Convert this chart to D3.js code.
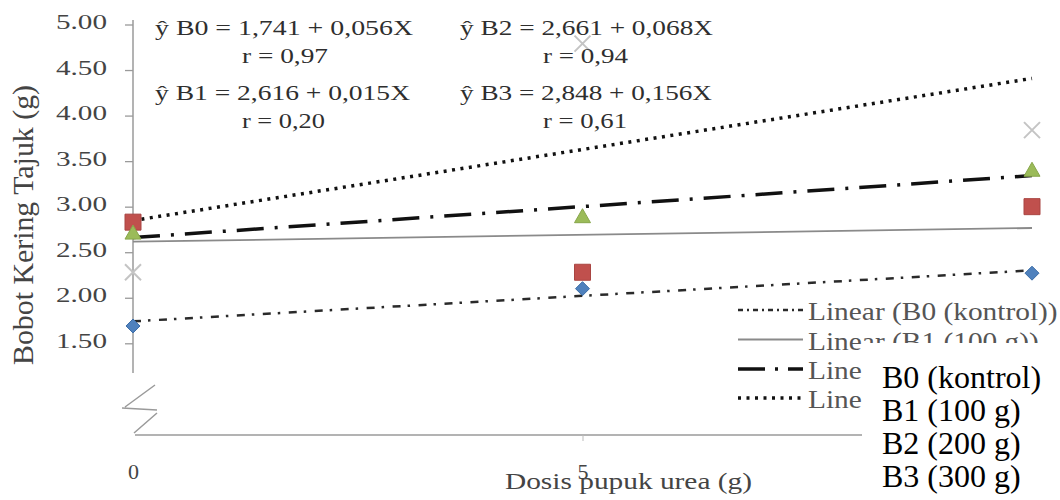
<!DOCTYPE html>
<html><head><meta charset="utf-8">
<script src="https://cdn.jsdelivr.net/npm/d3@7"></script>
<style>
body{margin:0;background:#fff}
svg{display:block}
svg text{font-family:"Liberation Serif","Times New Roman",serif}
</style>
</head><body>
<svg id="c" width="1060" height="500"></svg>
<script>
// ---- data ----
const doses = [0, 5, 10];
const seriesNames = ["B0 (kontrol)", "B1 (100 g)", "B2 (200 g)", "B3 (300 g)"];
const b0Values = [1.69, 2.10, 2.27];
const b1Values = [2.83, 2.28, 3.00];
const b2Values = [2.71, 2.89, 3.40];
const b3Values = [2.28, 4.79, 3.84];
const intercepts = [1.741, 2.616, 2.661, 2.848];
const slopes = [0.056, 0.015, 0.068, 0.156];
const rValues = [0.97, 0.20, 0.94, 0.61];
const yTicks = [1.5, 2, 2.5, 3, 3.5, 4, 4.5, 5];
const xTickLabels = ["0", "5"];
const xTickValues = [0, 5];
const yTitle = "Bobot Kering Tajuk (g)";
const xTitle = "Dosis pupuk urea (g)";

const svg = d3.select("#c");
const x = d3.scaleLinear().domain([0, 10]).range([133, 1032]);
const y = d3.scaleLinear().domain([1.5, 5]).range([343.3, 24.5]);
const axisColor = "#9a9a9a";

// clip path for the legend text partly hidden by the overlay box
const defs = svg.append("defs");
defs.append("clipPath").attr("id", "legClip").append("path")
  .attr("d", "M0,0 H1060 V343 H862 V500 H0 Z");

// ---- y axis ----
const yAxis = d3.axisLeft(y).tickValues(yTicks).tickSize(8).tickPadding(18)
  .tickFormat(d3.format(".2f"));
const gy = svg.append("g").attr("transform", "translate(133,0)").call(yAxis);
gy.select(".domain").remove();
gy.selectAll(".tick line").attr("stroke", axisColor).attr("stroke-width", 1.3);
gy.selectAll(".tick text").attr("font-size", 20).attr("fill", "#444")
  .attr("dy", "0.2em")
  .attr("textLength", 51).attr("lengthAdjust", "spacingAndGlyphs");
svg.append("line").attr("x1", 133).attr("x2", 133).attr("y1", 20).attr("y2", 373)
  .attr("stroke", axisColor).attr("stroke-width", 1.5);

// axis break
svg.append("path")
  .attr("d", "M155,385 L125,407 M122,408 L157,410 M157,413 L134,433")
  .attr("fill", "none").attr("stroke", axisColor).attr("stroke-width", 1.5);

// ---- x axis ----
svg.append("line").attr("x1", 135).attr("x2", 1032).attr("y1", 435).attr("y2", 435)
  .attr("stroke", axisColor).attr("stroke-width", 1.5);
const xAxis = d3.axisBottom(x).tickValues(xTickValues).tickSize(6).tickPadding(30)
  .tickFormat((d, i) => xTickLabels[i]);
const gx = svg.append("g").attr("transform", "translate(0,435)").call(xAxis);
gx.select(".domain").remove();
gx.selectAll(".tick line").attr("stroke", (d) => d === 0 ? "none" : "#bbb");
gx.selectAll(".tick text").attr("font-size", 22).attr("fill", "#444")
  .attr("dy", "0.35em");

// ---- trendlines ----
const lineStyles = [
  {stroke: "#2a2a2a", width: 2.5, dash: "8,7,2.5,8.5"},
  {stroke: "#8a8a8a", width: 1.8, dash: null},
  {stroke: "#111", width: 3.5, dash: "27,11,3,11"},
  {stroke: "#111", width: 3.5, dash: "3,5.5"}
];
const line = d3.line().x(d => x(d[0])).y(d => y(d[1]));
intercepts.forEach((a, i) => {
  const pts = [0, 10].map(X => [X, a + slopes[i] * X]);
  svg.append("path").attr("d", line(pts)).attr("fill", "none")
    .attr("stroke", lineStyles[i].stroke).attr("stroke-width", lineStyles[i].width)
    .attr("stroke-dasharray", lineStyles[i].dash);
});

// ---- markers ----
const series = [b0Values, b1Values, b2Values, b3Values];
const markerPath = [
  "M0,-7 L7,0 L0,7 L-7,0 Z",
  "M-8,-8 L8,-8 L8,8 L-8,8 Z",
  "M0,-8 L8,6 L-8,6 Z",
  "M-8,-8 L8,8 M8,-8 L-8,8"
];
const markerFill = ["#4f81bd", "#c0504d", "#9bbb59", "none"];
const markerStroke = ["#3d6ea8", "#a94542", "#87a64a", "#c4c4c4"];
series.forEach((vals, i) => {
  svg.append("g").selectAll("path").data(vals).join("path")
    .attr("transform", (d, j) => `translate(${x(doses[j])},${y(d)})`)
    .attr("d", markerPath[i])
    .attr("fill", markerFill[i]).attr("stroke", markerStroke[i])
    .attr("stroke-width", i === 3 ? 2 : 1);
});

// ---- equations ----
const f3 = v => d3.format(".3f")(v).replace(".", ",");
const f2 = v => d3.format(".2f")(v).replace(".", ",");
const eqPos = [[155, 35, 258], [155, 100, 255], [460, 35, 253], [460, 100, 252]];
const rPos = [[242, 63, 86], [242, 128, 83], [543, 63, 85], [543, 128, 84]];
intercepts.forEach((a, i) => {
  svg.append("text").attr("x", eqPos[i][0]).attr("y", eqPos[i][1])
    .attr("font-size", 21).attr("fill", "#2e2e2e")
    .attr("textLength", eqPos[i][2]).attr("lengthAdjust", "spacingAndGlyphs")
    .text(`ŷ B${i} = ${f3(a)} + ${f3(slopes[i])}X`);
  svg.append("text").attr("x", rPos[i][0]).attr("y", rPos[i][1])
    .attr("font-size", 21).attr("fill", "#2e2e2e")
    .attr("textLength", rPos[i][2]).attr("lengthAdjust", "spacingAndGlyphs")
    .text(`r = ${f2(rValues[i])}`);
});

// ---- axis titles ----
svg.append("text").attr("transform", "translate(33,225) rotate(-90)")
  .attr("text-anchor", "middle").attr("font-size", 29).attr("fill", "#444")
  .attr("textLength", 280).attr("lengthAdjust", "spacingAndGlyphs").text(yTitle);
svg.append("text").attr("x", 505).attr("y", 489).attr("font-size", 24).attr("fill", "#444")
  .attr("textLength", 247).attr("lengthAdjust", "spacingAndGlyphs").text(xTitle);

// ---- legend (trendlines) ----
const legY = [310, 339.5, 369, 398];
const leg = svg.append("g").attr("clip-path", "url(#legClip)");
seriesNames.forEach((n, i) => {
  const g = leg.append("g");
  g.append("line").attr("x1", 738).attr("x2", 803).attr("y1", legY[i]).attr("y2", legY[i])
    .attr("stroke", lineStyles[i].stroke).attr("stroke-width", lineStyles[i].width)
    .attr("stroke-dasharray", i === 2 ? "27,10,3,10" : (i === 0 ? "5,4,2,4" : lineStyles[i].dash));
  const t = g.append("text").attr("x", 808).attr("y", legY[i] + 10)
    .attr("font-size", 26).attr("fill", "#555").text(`Linear (${n})`);
  const w = t.node().getComputedTextLength();
  t.attr("textLength", w * 1.13).attr("lengthAdjust", "spacingAndGlyphs");
});

// ---- overlay box with series names ----
svg.append("rect").attr("x", 862).attr("y", 343).attr("width", 198).attr("height", 157)
  .attr("fill", "#fff");
const boxY = [388, 421, 454, 487];
seriesNames.forEach((n, i) => {
  svg.append("text").attr("x", 882).attr("y", boxY[i]).attr("font-size", 32)
    .attr("fill", "#000").text(n);
});
</script>
</body></html>
